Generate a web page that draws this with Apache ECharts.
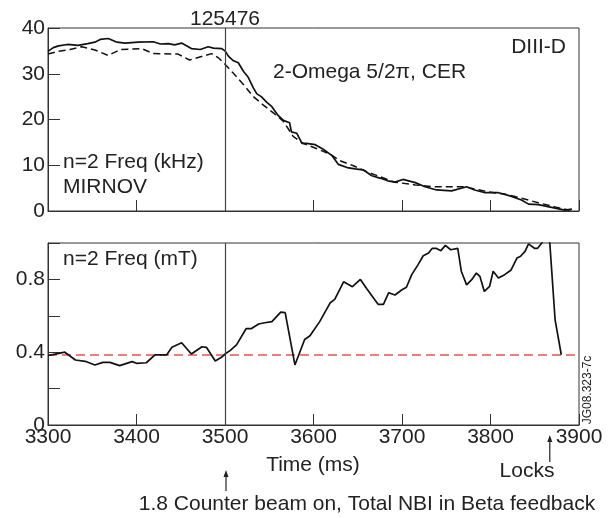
<!DOCTYPE html>
<html>
<head>
<meta charset="utf-8">
<script src="https://cdn.jsdelivr.net/npm/echarts@6/dist/echarts.min.js"></script>
<style>html,body{margin:0;padding:0;background:#fff}#c{width:610px;height:518px}</style>
</head>
<body>
<div id="c"></div>
<script>
// ---- data ----
var xTicks = [3300, 3400, 3500, 3600, 3700, 3800, 3900];
var markerTime = 3500;
var lockTime = 3867;
var redLevel = 0.385;

var mirnovT = [3300,3306,3312,3322,3334,3345,3353,3359,3368,3378,3387,3402,3419,3427,3436,3443,3451,3462,3472,3481,3487,3496,3500,3504,3509,3515,3521,3526,3532,3536,3541,3547,3553,3560,3566,3573,3575,3581,3587,3592,3602,3611,3621,3628,3638,3647,3656,3666,3675,3684,3692,3701,3715,3726,3739,3756,3773,3782,3794,3809,3822,3835,3843,3854,3869,3884,3892];
var mirnovV = [34.9,35.7,36.1,36.4,36.2,36.6,36.9,37.5,37.7,36.9,36.7,36.9,37.0,36.5,36.6,36.3,36.7,35.5,35.3,35.9,35.6,35.5,35.0,33.8,32.9,32.4,30.5,29.3,26.9,25.6,25.0,23.8,22.8,20.9,19.8,19.3,17.3,17.0,14.8,14.8,14.5,13.5,12.1,10.2,9.5,9.2,9.0,7.7,7.2,6.6,6.3,6.9,6.2,5.3,4.6,4.4,5.3,4.6,4.0,4.0,3.3,2.4,1.5,1.4,0.8,0.2,0.4];

var cerT = [3300,3312,3325,3338,3353,3368,3382,3406,3419,3447,3460,3485,3493,3500,3509,3521,3532,3543,3555,3566,3577,3588,3604,3619,3630,3645,3660,3675,3692,3715,3737,3771,3797,3816,3835,3854,3873,3888,3895];
var cerV = [34.3,34.9,35.3,35.9,35.2,34.0,35.3,35.5,34.4,34.3,33.0,34.4,33.4,32.1,30.2,27.6,25.0,23.2,21.4,19.6,16.3,14.8,13.6,12.4,11.0,9.9,8.6,7.5,6.3,5.7,5.3,5.3,4.2,3.7,2.8,1.8,0.9,0.2,0.4];

var mtT = [3300,3304,3319,3331,3342,3353,3362,3370,3381,3395,3400,3411,3421,3434,3440,3451,3462,3474,3479,3489,3496,3500,3506,3513,3524,3530,3538,3545,3553,3563,3568,3579,3590,3596,3607,3619,3624,3634,3644,3653,3660,3668,3673,3679,3685,3692,3700,3705,3711,3718,3724,3730,3734,3739,3744,3749,3755,3763,3767,3773,3779,3784,3788,3793,3799,3803,3809,3816,3823,3830,3834,3839,3843,3850,3853,3858,3862,3867,3873,3880];
var mtV = [0.383,0.385,0.40,0.357,0.35,0.33,0.344,0.344,0.326,0.348,0.339,0.342,0.385,0.385,0.427,0.452,0.39,0.43,0.427,0.352,0.372,0.39,0.41,0.44,0.53,0.53,0.555,0.562,0.568,0.62,0.617,0.33,0.47,0.49,0.568,0.672,0.69,0.787,0.76,0.80,0.75,0.696,0.663,0.663,0.727,0.714,0.743,0.757,0.826,0.88,0.93,0.945,0.97,0.97,0.958,0.987,0.963,0.97,0.845,0.77,0.80,0.835,0.817,0.734,0.762,0.845,0.808,0.826,0.85,0.918,0.927,0.954,0.995,0.97,0.97,1.0,1.05,1.0,0.578,0.386];

function zip(a, b) { return a.map(function (v, i) { return [v, b[i]]; }); }

var FONT = 'Liberation Sans';
var AX = '#333';
var chart = echarts.init(document.getElementById('c'), null, {renderer: 'canvas'});

function xAx(grid, showLabels) {
  return {
    type: 'value', gridIndex: grid, min: xTicks[0], max: xTicks[xTicks.length - 1], interval: 100,
    axisLine: {show: true, lineStyle: {color: AX, width: 1}},
    axisTick: {show: true, inside: true, length: 11, lineStyle: {color: AX, width: 1}},
    splitLine: {show: false},
    axisLabel: {show: showLabels, fontFamily: FONT, fontSize: 21, color: '#222', margin: 2,
      formatter: function (v) { return String(v); }}
  };
}
var vline = {
  symbol: 'none', silent: true, label: {show: false},
  lineStyle: {color: '#444', type: 'solid', width: 1.2},
  data: [{xAxis: markerTime}]
};

chart.setOption({
  animation: false,
  grid: [
    {left: 48, right: 31, top: 28, height: 183, show: true, borderColor: AX, borderWidth: 1, backgroundColor: 'transparent'},
    {left: 48, right: 31, top: 243, height: 182, show: true, borderColor: AX, borderWidth: 1, backgroundColor: 'transparent'}
  ],
  xAxis: [xAx(0, false), xAx(1, true)],
  yAxis: [
    {type: 'value', gridIndex: 0, min: 0, max: 40, interval: 10,
     axisLine: {show: true, lineStyle: {color: AX}},
     axisTick: {show: true, inside: true, length: 12, lineStyle: {color: AX}},
     splitLine: {show: false},
     axisLabel: {fontFamily: FONT, fontSize: 21, color: '#222', margin: 3}},
    {type: 'value', gridIndex: 1, min: 0, max: 1, interval: 0.2,
     axisLine: {show: true, lineStyle: {color: AX}},
     axisTick: {show: true, inside: true, length: 12, lineStyle: {color: AX}},
     splitLine: {show: false},
     axisLabel: {fontFamily: FONT, fontSize: 21, color: '#222', margin: 3,
       formatter: function (v) {
         if (Math.abs(v) < 1e-9) return '0';
         if (Math.abs(v - 0.4) < 1e-9) return '0.4';
         if (Math.abs(v - 0.8) < 1e-9) return '0.8';
         return '';
       }}}
  ],
  series: [
    {type: 'line', xAxisIndex: 0, yAxisIndex: 0, data: zip(cerT, cerV), symbol: 'none',
     lineStyle: {color: '#111', width: 1.5, type: [7, 4]}, z: 3, markLine: vline},
    {type: 'line', xAxisIndex: 0, yAxisIndex: 0, data: zip(mirnovT, mirnovV), symbol: 'none',
     lineStyle: {color: '#111', width: 1.7}, z: 4},
    {type: 'line', xAxisIndex: 1, yAxisIndex: 1, data: [[xTicks[0], redLevel], [xTicks[xTicks.length - 1], redLevel]], symbol: 'none',
     lineStyle: {color: '#e8524f', width: 1.5, type: [9, 5]}, z: 2, markLine: vline},
    {type: 'line', xAxisIndex: 1, yAxisIndex: 1, data: zip(mtT, mtV), symbol: 'none', clip: true,
     lineStyle: {color: '#111', width: 1.7}, z: 4}
  ]
});

var txt = function (x, y, s, o) {
  o = o || {};
  return {type: 'text', x: x, y: y, rotation: o.rot || 0, z: 10,
    style: {text: s, fontFamily: FONT, fontSize: o.size || 21, fill: '#222',
      align: o.align || 'left', verticalAlign: 'middle'}};
};
var ax = chart.convertToPixel({xAxisIndex: 1}, markerTime);
var lx = chart.convertToPixel({xAxisIndex: 1}, lockTime);
function arrow(x, yTop, yBot) {
  return [
    {type: 'line', z: 10, shape: {x1: x, y1: yTop + 5, x2: x, y2: yBot}, style: {stroke: '#222', lineWidth: 1.2}},
    {type: 'polygon', z: 10, shape: {points: [[x, yTop], [x - 2.5, yTop + 7], [x + 2.5, yTop + 7]]}, style: {fill: '#222'}}
  ];
}
chart.setOption({
  graphic: [
    txt(ax, 19, '125476', {align: 'center'}),
    txt(566, 47, 'DIII-D', {align: 'right'}),
    txt(273, 72, '2-Omega 5/2\u03c0, CER'),
    txt(63, 162, 'n=2 Freq (kHz)'),
    txt(63, 187, 'MIRNOV'),
    txt(63, 259, 'n=2 Freq (mT)'),
    txt(313, 465, 'Time (ms)', {align: 'center'}),
    txt(527, 471, 'Locks', {align: 'center'}),
    txt(367, 504, '1.8 Counter beam on, Total NBI in Beta feedback', {align: 'center'}),
    txt(588, 390, 'JG08.323-7c', {align: 'center', size: 12, rot: Math.PI / 2})
  ].concat(arrow(ax + 1, 470, 491)).concat(arrow(lx, 435, 462))
});
</script>
</body>
</html>
